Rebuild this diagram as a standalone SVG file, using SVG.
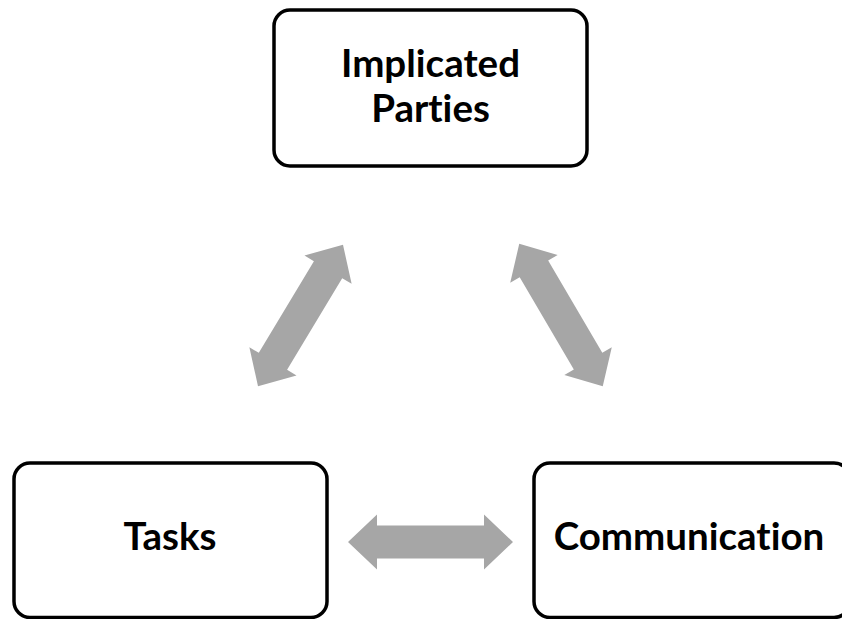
<svg xmlns="http://www.w3.org/2000/svg" width="842" height="619" viewBox="0 0 842 619">
  <style>
    .box { fill: #ffffff; stroke: #000000; stroke-width: 3.5; }
    .label { font-family: Lato, "Open Sans", "Liberation Sans", sans-serif; font-weight: bold; font-size: 38.5px; fill: #000000; text-anchor: middle; font-variant-ligatures: none; font-feature-settings: "liga" 0, "clig" 0; }
    .arrow { fill: #a6a6a6; }
  </style>
  <defs>
    <!-- double-headed block arrow, centred on the origin along the x axis -->
    <path id="dblArrow" d="M -82.5 0 L -53.5 -27.5 L -53.5 -16.5 L 53.5 -16.5 L 53.5 -27.5 L 82.5 0 L 53.5 27.5 L 53.5 16.5 L -53.5 16.5 L -53.5 27.5 Z"/>
  </defs>

  <rect width="842" height="619" fill="#ffffff"/>

  <g id="connectors">
    <use href="#dblArrow" class="arrow" transform="translate(300.5 315.5) rotate(-59)"/>
    <use href="#dblArrow" class="arrow" transform="translate(561 315) rotate(59.6)"/>
    <use href="#dblArrow" class="arrow" transform="translate(430.5 542)"/>
  </g>

  <g id="implicated-parties">
    <rect class="box" x="274" y="10" width="313" height="156" rx="16"/>
    <text class="label" x="430.5" y="77">Implicated</text>
    <text class="label" x="430.5" y="122">Parties</text>
  </g>

  <g id="tasks">
    <rect class="box" x="14" y="463" width="313" height="154.5" rx="16"/>
    <text class="label" x="170" y="550">Tasks</text>
  </g>

  <g id="communication">
    <rect class="box" x="534" y="463" width="316" height="154.5" rx="16"/>
    <text class="label" x="689" y="550">Communication</text>
  </g>
</svg>
